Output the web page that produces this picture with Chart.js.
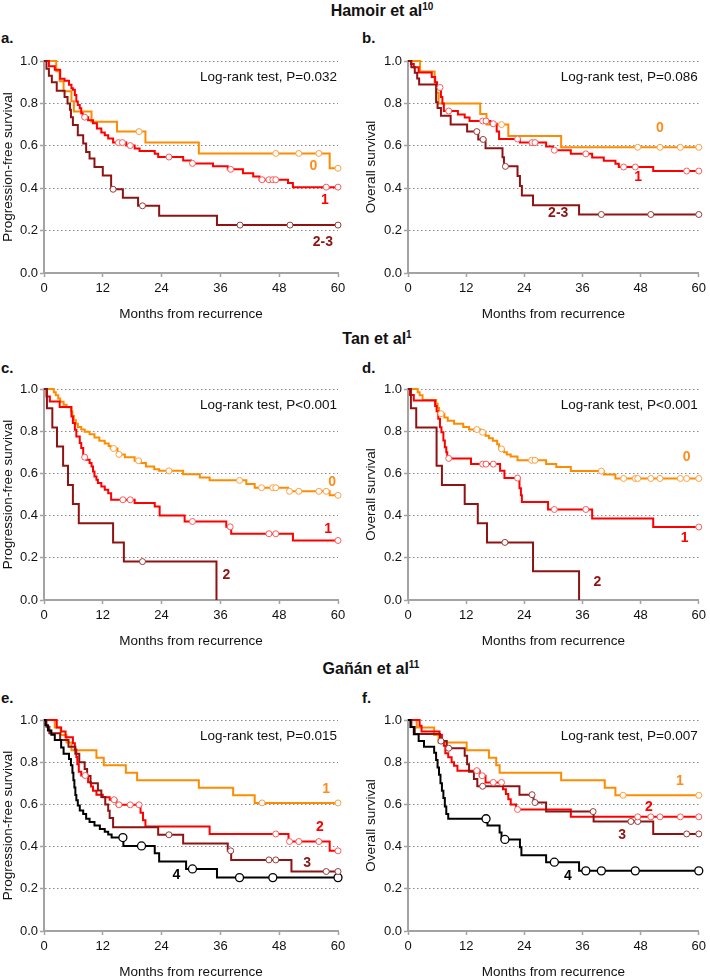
<!DOCTYPE html>
<html>
<head>
<meta charset="utf-8">
<script src="https://cdn.jsdelivr.net/npm/chart.js@4/dist/chart.umd.min.js"></script>
<style>
  html, body { margin:0; padding:0; background:#fff; }
  body { width:710px; height:979px; position:relative; overflow:hidden; font-family:"Liberation Sans", Arial, sans-serif; color:#111; }
  .title { position:absolute; width:220px; text-align:center; font-weight:bold; font-size:16px; line-height:16px; white-space:nowrap; }
  .sup { font-size:10px; position:relative; top:-6px; }
  .plabel { position:absolute; font-weight:bold; font-size:15px; line-height:15px; }
</style>
</head>
<body>
<div class="title" style="left:272px; top:3px;">Hamoir et al<span class="sup">10</span></div>
<div class="title" style="left:267px; top:331px;">Tan et al<span class="sup">1</span></div>
<div class="title" style="left:261px; top:661px;">Gañán et al<span class="sup">11</span></div>
<div class="plabel" style="left:1px; top:30px;">a.</div>
<div class="plabel" style="left:362px; top:30px;">b.</div>
<div class="plabel" style="left:1px; top:360px;">c.</div>
<div class="plabel" style="left:362px; top:360px;">d.</div>
<div class="plabel" style="left:1px; top:690px;">e.</div>
<div class="plabel" style="left:362px; top:690px;">f.</div>
<script>
// ---------- axis ticks ----------
const monthTicks = [0, 12, 24, 36, 48, 60];
const survTicks = [0, 0.2, 0.4, 0.6, 0.8, 1.0];

// ---------- group names ----------
const hamoirGroups = ['0', '1', '2-3'];
const tanGroups = ['0', '1', '2'];
const gananGroups = ['1', '2', '3', '4'];

// ---------- a. Hamoir, progression-free survival: [month, survival] ----------
const aPfs0 = [[0,1],[2.5,0.952],[3.2,0.905],[4.0,0.857],[5.6,0.81],[6.1,0.762],[9.7,0.714],[14.9,0.667],[20.7,0.615],[31.6,0.564],[58.3,0.494],[60,0.494]];
const aPfs0Cens = [[19.4,0.667],[47.3,0.564],[52.0,0.564],[56.1,0.564],[60,0.494]];
const aPfs1 = [[0,1],[1.0,0.975],[2.2,0.959],[3.3,0.916],[4.2,0.907],[5.1,0.888],[5.6,0.872],[5.9,0.864],[6.3,0.84],[6.6,0.809],[6.9,0.793],[7.3,0.777],[7.6,0.753],[7.9,0.735],[9.0,0.72],[10.0,0.706],[10.8,0.682],[11.7,0.663],[12.4,0.65],[13.1,0.634],[14.1,0.615],[16.8,0.601],[18.5,0.587],[19.5,0.576],[22.6,0.563],[23.3,0.547],[28.4,0.531],[30.0,0.517],[34.5,0.503],[37.5,0.489],[40.6,0.47],[42.7,0.455],[44.0,0.44],[49.8,0.425],[50.8,0.405],[60,0.405]];
const aPfs1Cens = [[8.3,0.735],[15.2,0.615],[16.0,0.615],[17.6,0.601],[25.5,0.547],[30.3,0.517],[38.1,0.489],[44.5,0.44],[45.9,0.44],[46.7,0.44],[47.3,0.44],[57.6,0.405],[60,0.405]];
const aPfs2 = [[0,1],[0.5,0.964],[1.0,0.93],[1.6,0.9],[2.6,0.86],[4.2,0.83],[4.8,0.8],[5.3,0.77],[5.5,0.735],[5.9,0.698],[6.9,0.65],[8.0,0.611],[8.6,0.571],[9.3,0.54],[10.3,0.5],[12.0,0.46],[13.7,0.395],[16.1,0.355],[19.2,0.317],[23.5,0.27],[35.3,0.226],[60,0.226]];
const aPfs2Cens = [[14.1,0.395],[20.1,0.317],[40.0,0.226],[50.2,0.226],[60,0.226]];

// ---------- b. Hamoir, overall survival ----------
const bOs0 = [[0,1],[2.5,0.95],[5.5,0.9],[5.9,0.85],[6.3,0.8],[14.9,0.75],[16.2,0.7],[20.7,0.646],[31.6,0.593],[60,0.593]];
const bOs0Cens = [[19.3,0.7],[47.4,0.593],[52.0,0.593],[56.2,0.593],[60,0.593]];
const bOs1 = [[0,1],[0.6,0.986],[1.2,0.97],[2.2,0.946],[4.9,0.925],[5.6,0.9],[6.0,0.875],[6.8,0.83],[7.1,0.8],[7.4,0.764],[10.3,0.748],[11.7,0.733],[12.7,0.717],[17.0,0.704],[18.3,0.667],[18.8,0.632],[23.1,0.615],[28.5,0.597],[29.9,0.579],[33.6,0.562],[38.0,0.545],[40.4,0.53],[42.8,0.515],[43.5,0.5],[50.6,0.481],[60,0.481]];
const bOs1Cens = [[6.6,0.875],[8.4,0.764],[15.4,0.717],[16.1,0.717],[17.6,0.704],[22.6,0.632],[25.6,0.615],[26.2,0.615],[30.2,0.579],[36.7,0.562],[44.5,0.5],[46.9,0.5],[57.5,0.481],[60,0.481]];
const bOs2 = [[0,1],[0.7,0.97],[1.4,0.945],[1.9,0.917],[2.3,0.889],[5.8,0.806],[6.1,0.778],[6.8,0.742],[8.8,0.7],[12.2,0.667],[14.5,0.63],[16.0,0.588],[19.5,0.546],[19.8,0.503],[22.6,0.457],[23.1,0.41],[23.5,0.365],[25.8,0.32],[35.3,0.276],[60,0.276]];
const bOs2Cens = [[14.2,0.667],[15.5,0.63],[20.1,0.503],[39.9,0.276],[50.1,0.276],[60,0.276]];

// ---------- c. Tan, progression-free survival ----------
const cPfs0 = [[0,1],[2.0,0.985],[2.4,0.97],[2.9,0.955],[3.3,0.94],[4.0,0.925],[4.6,0.913],[5.5,0.893],[5.8,0.872],[6.1,0.852],[6.5,0.835],[6.9,0.82],[7.6,0.808],[8.3,0.797],[9.3,0.785],[10.3,0.77],[11.3,0.755],[12.4,0.742],[13.2,0.73],[13.6,0.718],[15.0,0.69],[16.5,0.677],[18.5,0.66],[19.8,0.649],[20.8,0.633],[22.5,0.62],[23.5,0.612],[28.4,0.596],[31.8,0.58],[33.8,0.567],[41.3,0.55],[43.0,0.532],[49.8,0.515],[58.3,0.496],[60,0.496]];
const cPfs0Cens = [[14.2,0.718],[15.3,0.69],[19.3,0.66],[25.5,0.612],[39.9,0.567],[44.4,0.532],[46.7,0.532],[47.3,0.532],[50.1,0.515],[52.0,0.515],[56.1,0.515],[57.6,0.515],[60,0.496]];
const cPfs1 = [[0,1],[0.5,0.965],[1.2,0.941],[3.2,0.915],[5.6,0.87],[5.9,0.839],[6.3,0.807],[6.6,0.775],[7.3,0.744],[7.6,0.72],[8.0,0.677],[8.6,0.665],[9.3,0.649],[9.7,0.633],[10.0,0.609],[10.3,0.585],[10.7,0.57],[11.0,0.554],[11.7,0.538],[12.4,0.522],[13.1,0.506],[13.7,0.475],[18.5,0.46],[22.6,0.443],[23.6,0.401],[28.7,0.372],[37.2,0.347],[38.2,0.314],[50.8,0.282],[60,0.282]];
const cPfs1Cens = [[8.3,0.677],[16.1,0.475],[17.6,0.475],[30.3,0.372],[38.0,0.347],[45.9,0.314],[47.3,0.314],[60,0.282]];
const cPfs2 = [[0,1],[0.6,0.909],[1.7,0.818],[2.65,0.727],[3.9,0.636],[4.9,0.545],[5.9,0.455],[7.1,0.364],[14.1,0.273],[16.3,0.182],[35.2,0]];
const cPfs2Cens = [[20.1,0.182]];

// ---------- d. Tan, overall survival ----------
const dOs0 = [[0,1],[2.0,0.985],[2.4,0.97],[3.0,0.948],[5.8,0.93],[6.1,0.91],[6.4,0.883],[7.5,0.865],[8.2,0.85],[9.5,0.835],[11.4,0.82],[12.6,0.808],[15.0,0.795],[16.0,0.778],[16.7,0.767],[17.5,0.755],[18.4,0.738],[18.8,0.716],[19.8,0.7],[20.4,0.69],[21.2,0.68],[22.6,0.662],[28.5,0.645],[30.6,0.63],[33.6,0.611],[40.4,0.595],[42.8,0.576],[60,0.576]];
const dOs0Cens = [[6.8,0.883],[14.2,0.808],[15.4,0.795],[19.3,0.716],[25.5,0.662],[26.2,0.662],[39.9,0.611],[44.5,0.576],[46.9,0.576],[47.4,0.576],[50.1,0.576],[52.0,0.576],[56.2,0.576],[57.5,0.576],[60,0.576]];
const dOs1 = [[0,1],[0.4,0.972],[1.2,0.946],[5.6,0.92],[5.9,0.895],[6.25,0.859],[6.6,0.819],[6.9,0.795],[7.3,0.756],[7.6,0.724],[7.9,0.7],[8.1,0.671],[13.0,0.644],[19.0,0.613],[19.9,0.578],[23.0,0.53],[23.3,0.497],[23.5,0.465],[28.9,0.429],[38.0,0.386],[50.6,0.346],[60,0.346]];
const dOs1Cens = [[8.4,0.671],[15.4,0.644],[16.1,0.644],[17.6,0.644],[22.6,0.578],[30.2,0.429],[36.7,0.429],[60,0.346]];
const dOs2 = [[0,1],[0.6,0.909],[1.7,0.818],[5.9,0.636],[7.0,0.545],[11.7,0.455],[14.4,0.364],[16.3,0.273],[25.8,0.136],[35.3,0]];
const dOs2Cens = [[20.0,0.273]];

// ---------- e. Gañán, progression-free survival ----------
const ePfs1 = [[0,1],[2.2,0.964],[3.4,0.929],[4.6,0.893],[5.6,0.857],[10.7,0.821],[12.2,0.786],[16.7,0.75],[19.0,0.714],[31.6,0.679],[38.6,0.643],[43.0,0.607],[60,0.607]];
const ePfs1Cens = [[44.5,0.607],[60,0.607]];
const ePfs2 = [[0,1],[2.6,0.965],[3.5,0.945],[4.4,0.918],[5.9,0.89],[6.3,0.86],[6.6,0.825],[6.8,0.79],[7.1,0.755],[7.6,0.737],[9.0,0.705],[9.6,0.685],[10.0,0.665],[10.7,0.646],[12.0,0.634],[13.4,0.622],[14.8,0.598],[19.7,0.56],[20.2,0.525],[20.7,0.495],[33.8,0.46],[49.9,0.424],[58.3,0.38],[60,0.38]];
const ePfs2Cens = [[8.4,0.737],[14.3,0.622],[15.3,0.598],[17.6,0.598],[19.4,0.598],[47.3,0.46],[50.1,0.424],[52.0,0.424],[56.1,0.424],[60,0.38]];
const ePfs3 = [[0,1],[0.5,0.968],[1.1,0.937],[3.3,0.905],[5.0,0.873],[6.4,0.84],[7.2,0.8],[8.3,0.768],[8.8,0.735],[9.5,0.7],[11.0,0.666],[11.7,0.635],[12.5,0.6],[13.1,0.57],[13.4,0.535],[14.1,0.492],[23.3,0.456],[28.4,0.415],[37.5,0.38],[38.2,0.337],[50.5,0.282],[60,0.282]];
const ePfs3Cens = [[25.5,0.456],[38.1,0.38],[45.9,0.337],[47.3,0.337],[57.6,0.282],[60,0.282]];
const ePfs4 = [[0,1],[0.3,0.975],[0.8,0.95],[1.5,0.93],[2.2,0.905],[3.5,0.87],[4.0,0.84],[5.1,0.815],[5.5,0.785],[5.8,0.75],[6.0,0.715],[6.2,0.68],[6.4,0.645],[6.6,0.62],[6.9,0.595],[7.3,0.571],[8.0,0.555],[8.6,0.532],[9.3,0.516],[10.3,0.5],[11.4,0.484],[12.4,0.47],[13.1,0.457],[13.8,0.443],[16.2,0.403],[22.6,0.369],[23.5,0.329],[29.0,0.294],[35.3,0.253],[60,0.253]];
const ePfs4Cens = [[16.1,0.443],[19.9,0.403],[30.3,0.294],[39.9,0.253],[46.7,0.253],[60,0.253]];

// ---------- f. Gañán, overall survival ----------
const fOs1 = [[0,1],[1.8,0.964],[5.4,0.929],[6.3,0.893],[12.1,0.857],[16.7,0.821],[18.2,0.786],[18.9,0.75],[31.6,0.714],[40.6,0.679],[42.8,0.643],[60,0.643]];
const fOs1Cens = [[44.4,0.643],[60,0.643]];
const fOs2 = [[0,1],[2.4,0.973],[2.8,0.946],[6.5,0.93],[7.0,0.9],[7.4,0.878],[7.7,0.842],[8.3,0.823],[9.0,0.8],[9.5,0.783],[10.2,0.76],[14.8,0.736],[16.0,0.704],[19.6,0.672],[20.2,0.649],[20.7,0.625],[21.2,0.6],[22.3,0.576],[33.6,0.541],[60,0.541]];
const fOs2Cens = [[14.2,0.76],[15.3,0.736],[17.6,0.704],[19.3,0.704],[22.6,0.576],[47.4,0.541],[50.1,0.541],[52.0,0.541],[56.2,0.541],[60,0.541]];
const fOs3 = [[0,1],[0.7,0.967],[1.4,0.934],[6.6,0.9],[8.0,0.866],[11.7,0.83],[12.2,0.79],[12.6,0.755],[13.6,0.72],[14.3,0.686],[23.0,0.646],[25.9,0.609],[28.5,0.566],[38.3,0.519],[50.6,0.46],[60,0.46]];
const fOs3Cens = [[6.8,0.9],[8.4,0.866],[15.4,0.686],[25.6,0.646],[26.2,0.609],[38.2,0.566],[46.0,0.519],[47.4,0.519],[57.5,0.46],[60,0.46]];
const fOs4 = [[0,1],[0.5,0.967],[1.2,0.933],[2.2,0.9],[3.3,0.873],[5.4,0.845],[5.8,0.81],[6.1,0.775],[6.4,0.74],[6.7,0.7],[7.0,0.665],[7.3,0.63],[7.6,0.59],[7.9,0.555],[8.3,0.532],[16.4,0.5],[18.9,0.467],[19.3,0.434],[23.1,0.397],[23.4,0.359],[28.5,0.326],[35.3,0.285],[60,0.285]];
const fOs4Cens = [[16.1,0.532],[20.0,0.434],[30.2,0.326],[36.7,0.285],[39.9,0.285],[46.9,0.285],[60,0.285]];

// ---------- styling ----------
const lineColor = { orange:'#FF8C00', red:'#FF0000', dark:'#8E1414', black:'#000000' };
const markColor = { orange:'#FFA040', red:'#FF5A5A', dark:'#9A3A3A', black:'#000000' };
const labelColor = { orange:'#FF8C1A', red:'#FF0000', dark:'#8E1414', black:'#000000' };

Chart.defaults.font.family = '"Liberation Sans", Arial, sans-serif';
Chart.defaults.color = '#111';

const panels = [
  { left:0, top:47, h:274, yw:44, padR:17, yTitlePad:1.25, yTitle:'Progression-free survival', logrank:'Log-rank test, P=0.032',
    curves:[ {name:hamoirGroups[0], d:aPfs0, c:aPfs0Cens, col:'orange', at:[55.0,0.506]},
             {name:hamoirGroups[1], d:aPfs1, c:aPfs1Cens, col:'red', at:[57.3,0.344]},
             {name:hamoirGroups[2], d:aPfs2, c:aPfs2Cens, col:'dark', at:[56.9,0.147]} ] },
  { left:355, top:47, h:274, yw:53, padR:7, yTitlePad:10, yTitle:'Overall survival', logrank:'Log-rank test, P=0.086',
    curves:[ {name:hamoirGroups[0], d:bOs0, c:bOs0Cens, col:'orange', at:[52.0,0.681]},
             {name:hamoirGroups[1], d:bOs1, c:bOs1Cens, col:'red', at:[47.5,0.45]},
             {name:hamoirGroups[2], d:bOs2, c:bOs2Cens, col:'dark', at:[31.0,0.284]} ] },
  { left:0, top:375, h:273, yw:44, padR:17, yTitlePad:1.25, yTitle:'Progression-free survival', logrank:'Log-rank test, P<0.001',
    curves:[ {name:tanGroups[0], d:cPfs0, c:cPfs0Cens, col:'orange', at:[58.8,0.559]},
             {name:tanGroups[1], d:cPfs1, c:cPfs1Cens, col:'red', at:[58.0,0.338]},
             {name:tanGroups[2], d:cPfs2, c:cPfs2Cens, col:'dark', at:[37.2,0.12]} ] },
  { left:355, top:375, h:273, yw:53, padR:7, yTitlePad:10, yTitle:'Overall survival', logrank:'Log-rank test, P<0.001',
    curves:[ {name:tanGroups[0], d:dOs0, c:dOs0Cens, col:'orange', at:[57.5,0.675]},
             {name:tanGroups[1], d:dOs1, c:dOs1Cens, col:'red', at:[57.1,0.294]},
             {name:tanGroups[2], d:dOs2, c:dOs2Cens, col:'dark', at:[39.1,0.087]} ] },
  { left:0, top:706, h:273, yw:44, padR:17, yTitlePad:1.25, yTitle:'Progression-free survival', logrank:'Log-rank test, P=0.015',
    curves:[ {name:gananGroups[0], d:ePfs1, c:ePfs1Cens, col:'orange', at:[57.6,0.674]},
             {name:gananGroups[1], d:ePfs2, c:ePfs2Cens, col:'red', at:[56.3,0.49]},
             {name:gananGroups[2], d:ePfs3, c:ePfs3Cens, col:'dark', at:[53.7,0.321]},
             {name:gananGroups[3], d:ePfs4, c:ePfs4Cens, col:'black', at:[27.0,0.266]} ] },
  { left:355, top:706, h:273, yw:53, padR:7, yTitlePad:10, yTitle:'Overall survival', logrank:'Log-rank test, P=0.007',
    curves:[ {name:gananGroups[0], d:fOs1, c:fOs1Cens, col:'orange', at:[56.1,0.709]},
             {name:gananGroups[1], d:fOs2, c:fOs2Cens, col:'red', at:[49.7,0.585]},
             {name:gananGroups[2], d:fOs3, c:fOs3Cens, col:'dark', at:[44.2,0.456]},
             {name:gananGroups[3], d:fOs4, c:fOs4Cens, col:'black', at:[33.0,0.258]} ] }
];

const AXIS = '#a3a3a3';

function makePanel(p) {
  const cv = document.createElement('canvas');
  cv.width = 355; cv.height = p.h;
  cv.style.cssText = 'position:absolute;left:' + p.left + 'px;top:' + p.top + 'px;width:355px;height:' + p.h + 'px;';
  document.body.appendChild(cv);

  const datasets = [];
  p.curves.forEach((c, i) => {
    datasets.push({
      type:'line', data:c.d, stepped:true, borderColor:lineColor[c.col], borderWidth:2,
      pointRadius:0, fill:false, tension:0, clip:false, order: 10 + (p.curves.length - i)
    });
    datasets.push({
      type:'line', data:c.c, showLine:false, clip:false, order: 1,
      pointRadius: c.col === 'black' ? 4 : 3, pointHoverRadius:0,
      pointBackgroundColor:'#ffffff', pointBorderColor:markColor[c.col], pointBorderWidth: c.col === 'black' ? 1.3 : 1
    });
  });

  const annot = {
    id:'annot',
    afterDatasetsDraw(chart) {
      const {ctx, chartArea, scales} = chart;
      ctx.save();
      ctx.font = '13.5px "Liberation Sans", Arial, sans-serif';
      ctx.fillStyle = '#111';
      ctx.textAlign = 'right';
      ctx.textBaseline = 'middle';
      ctx.fillText(p.logrank, chartArea.right - 1, chartArea.top + 16);
      ctx.font = 'bold 14px "Liberation Sans", Arial, sans-serif';
      ctx.textAlign = 'center';
      p.curves.forEach(c => {
        ctx.fillStyle = labelColor[c.col];
        ctx.fillText(c.name, scales.x.getPixelForValue(c.at[0]), scales.y.getPixelForValue(c.at[1]));
      });
      ctx.restore();
    }
  };

  new Chart(cv, {
    type:'line',
    data:{ datasets },
    options:{
      responsive:false, animation:false, events:[],
      layout:{ padding:{ top:14, right:p.padR, left:0, bottom:0 } },
      plugins:{ legend:{display:false}, tooltip:{enabled:false} },
      scales:{
        x:{
          type:'linear', min:0, max:60, position:'bottom',
          afterBuildTicks:(s) => { s.ticks = monthTicks.map(v => ({value:v})); },
          afterFit:(s) => { s.height = 48; },
          ticks:{ font:{size:13}, color:'#111', padding:4, maxRotation:0, autoSkip:false, callback:(v) => String(v) },
          grid:{ drawOnChartArea:false, drawTicks:true, tickLength:4, tickColor:AXIS, tickWidth:1.5, color:AXIS },
          border:{ display:true, color:AXIS, width:2 },
          title:{ display:true, text:'Months from recurrence', font:{size:13.5, lineHeight:1}, color:'#111', padding:{top:0, bottom:0} }
        },
        y:{
          type:'linear', min:0, max:1, position:'left',
          afterBuildTicks:(s) => { s.ticks = survTicks.map(v => ({value:v})); },
          afterFit:(s) => { s.width = p.yw; },
          ticks:{ font:{size:13}, color:'#111', padding:2, autoSkip:false, callback:(v) => Number(v).toFixed(1) },
          grid:{ drawOnChartArea:true, drawTicks:true, tickLength:4, tickColor:AXIS, tickWidth:1.5, lineWidth:1,
                 color:(ctx) => (ctx.tick && ctx.tick.value === 0) ? 'rgba(0,0,0,0)' : '#8a8a8a' },
          border:{ display:true, color:AXIS, width:2, dash:[1.5, 2.5] },
          title:{ display:true, text:p.yTitle, font:{size:13.5, lineHeight:1}, color:'#111', padding:{top:p.yTitlePad, bottom:0} }
        }
      }
    },
    plugins:[annot]
  });
}

panels.forEach(makePanel);
</script>
</body>
</html>
